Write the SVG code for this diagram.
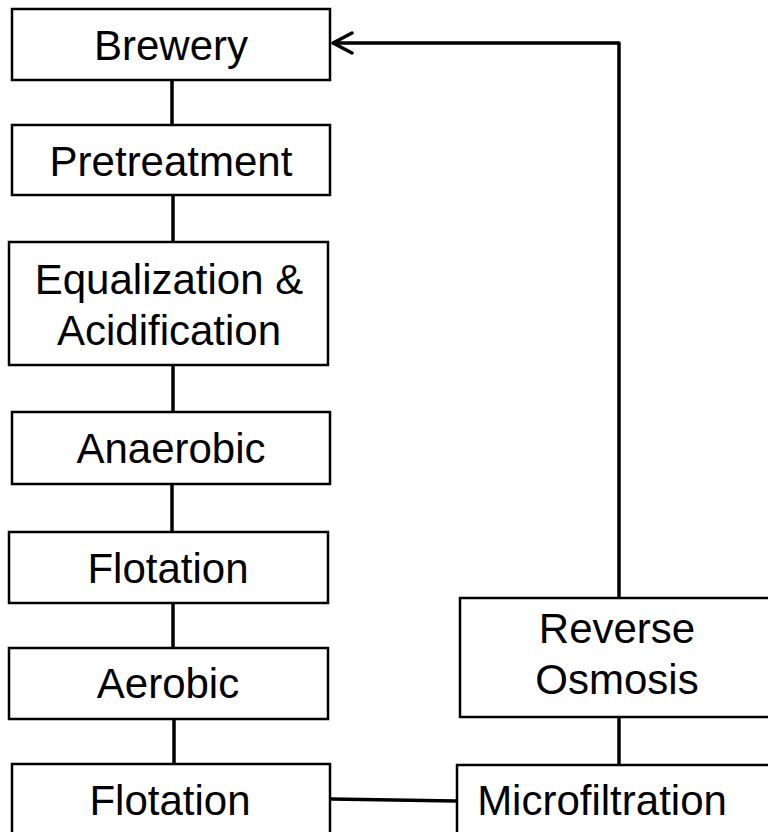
<svg xmlns="http://www.w3.org/2000/svg" width="768" height="832" viewBox="0 0 768 832">
<style>
.box{fill:#fff;stroke:#000;stroke-width:2.5}
.lbl{font-family:"Liberation Sans",Arial,sans-serif;font-size:42px;fill:#000;text-anchor:middle}
.conn{fill:none;stroke:#000;stroke-width:3.5;stroke-linejoin:round}
</style>
<defs>
<marker id="open" viewBox="0 0 24 24" refX="22" refY="12" markerWidth="24" markerHeight="24" markerUnits="userSpaceOnUse" orient="auto">
<path d="M3 2 L22 12 L3 22" fill="none" stroke="#000" stroke-width="3.5" stroke-linecap="round" stroke-linejoin="round"/>
</marker>
</defs>
<rect width="768" height="832" fill="#fff"/>
<g id="brewery"><rect class="box" x="12" y="9" width="318" height="71"/><text class="lbl" x="171" y="60">Brewery</text></g>
<g id="pretreatment"><rect class="box" x="12" y="125" width="318" height="70"/><text class="lbl" x="171" y="176">Pretreatment</text></g>
<g id="equalization"><rect class="box" x="9" y="242" width="319" height="123"/><text class="lbl" x="169" y="294">Equalization &amp;</text><text class="lbl" x="169" y="345">Acidification</text></g>
<g id="anaerobic"><rect class="box" x="12" y="412" width="318" height="72"/><text class="lbl" x="171" y="463">Anaerobic</text></g>
<g id="flotation1"><rect class="box" x="9" y="532" width="319" height="71"/><text class="lbl" x="168" y="583">Flotation</text></g>
<g id="aerobic"><rect class="box" x="9" y="648" width="319" height="71"/><text class="lbl" x="168" y="698">Aerobic</text></g>
<g id="flotation2"><rect class="box" x="12" y="764" width="318" height="90"/><text class="lbl" x="170" y="815">Flotation</text></g>
<g id="reverse-osmosis"><rect class="box" x="460" y="598" width="320" height="119"/><text class="lbl" x="617" y="643">Reverse</text><text class="lbl" x="617" y="694">Osmosis</text></g>
<g id="microfiltration"><rect class="box" x="457" y="765" width="323" height="90"/><text class="lbl" x="602" y="815">Microfiltration</text></g>
<g id="connectors">
<line class="conn" x1="172" y1="80" x2="172" y2="125"/>
<line class="conn" x1="173" y1="195" x2="173" y2="242"/>
<line class="conn" x1="173" y1="365" x2="173" y2="412"/>
<line class="conn" x1="172" y1="484" x2="172" y2="532"/>
<line class="conn" x1="173" y1="603" x2="173" y2="648"/>
<line class="conn" x1="174" y1="719" x2="174" y2="764"/>
<line class="conn" x1="331" y1="799" x2="456" y2="801"/>
<line class="conn" x1="619" y1="717" x2="619" y2="765"/>
<path class="conn" d="M619 598 L619 43 L333 43" marker-end="url(#open)"/>
</g>
</svg>
